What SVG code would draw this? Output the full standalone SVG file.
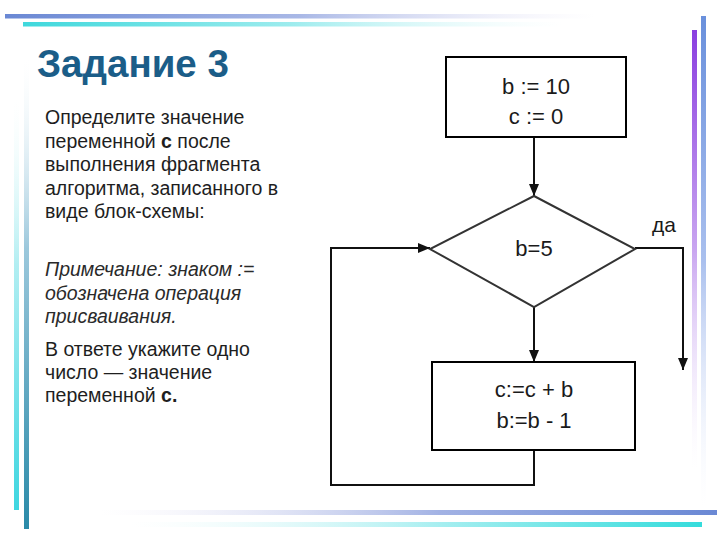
<svg xmlns="http://www.w3.org/2000/svg" width="720" height="540" viewBox="0 0 720 540">
<defs>
<linearGradient id="gTopBlue" x1="0" y1="0" x2="1" y2="0"><stop offset="0" stop-color="#6a88d4"/><stop offset="0.5" stop-color="#a9b8e6"/><stop offset="1" stop-color="#e8e4f6" stop-opacity="0"/></linearGradient>
<linearGradient id="gTopCyan" x1="0" y1="0" x2="1" y2="0"><stop offset="0" stop-color="#3fd8dc"/><stop offset="0.5" stop-color="#9eecee"/><stop offset="1" stop-color="#e6fafa" stop-opacity="0"/></linearGradient>
<linearGradient id="gBotBlue" x1="1" y1="0" x2="0" y2="0"><stop offset="0" stop-color="#6a88d4"/><stop offset="0.45" stop-color="#a2b2e4"/><stop offset="1" stop-color="#ece8f6" stop-opacity="0"/></linearGradient>
<linearGradient id="gBotCyan" x1="1" y1="0" x2="0" y2="0"><stop offset="0" stop-color="#35dcdc"/><stop offset="0.45" stop-color="#a4eef0"/><stop offset="1" stop-color="#e8fafa" stop-opacity="0"/></linearGradient>
<linearGradient id="gRPurple" x1="0" y1="0" x2="0" y2="1"><stop offset="0" stop-color="#8b3fe0"/><stop offset="0.5" stop-color="#c9a6f0"/><stop offset="1" stop-color="#f4eefc" stop-opacity="0"/></linearGradient>
<linearGradient id="gRBlue" x1="0" y1="0" x2="0" y2="1"><stop offset="0" stop-color="#6a90dc"/><stop offset="0.5" stop-color="#aac0ee"/><stop offset="1" stop-color="#eef2fc" stop-opacity="0"/></linearGradient>
<linearGradient id="gLCyan" x1="0" y1="1" x2="0" y2="0"><stop offset="0" stop-color="#3ed6e0"/><stop offset="0.6" stop-color="#b2eef2"/><stop offset="1" stop-color="#f0fcfc" stop-opacity="0"/></linearGradient>
<linearGradient id="gLBlue" x1="0" y1="1" x2="0" y2="0"><stop offset="0" stop-color="#2a8aa8"/><stop offset="0.6" stop-color="#9cc8dc"/><stop offset="1" stop-color="#eef6fa" stop-opacity="0"/></linearGradient>
<marker id="arr" markerUnits="userSpaceOnUse" markerWidth="12" markerHeight="10" refX="12" refY="5" orient="auto"><path d="M0,0 L12,5 L0,10 z" fill="#111"/></marker>
</defs>
<style>
.body{font-family:"Liberation Sans",Arial,sans-serif;font-size:19.5px;fill:#1e1e1e}
.it{font-style:italic;fill:#2a2a2a}
.fc{font-family:"Liberation Sans",Arial,sans-serif;font-size:22px;fill:#1a1a1a;text-anchor:middle}
.box{fill:#fff;stroke:#000;stroke-width:2}
.dia{fill:#fff;stroke:#333;stroke-width:2}
.con{fill:none;stroke:#111;stroke-width:2}
</style>
<rect width="720" height="540" fill="#fff"/>
<g id="decor">
<rect x="5" y="14" width="590" height="4.5" fill="url(#gTopBlue)"/>
<rect x="23" y="22" width="540" height="4.5" fill="url(#gTopCyan)"/>
<rect x="692" y="30" width="5" height="440" fill="url(#gRPurple)"/>
<rect x="701" y="16" width="5" height="490" fill="url(#gRBlue)"/>
<rect x="100" y="510" width="617" height="5" fill="url(#gBotBlue)"/>
<rect x="130" y="522" width="572" height="5" fill="url(#gBotCyan)"/>
<rect x="14" y="100" width="5" height="410" fill="url(#gLCyan)"/>
<rect x="24" y="60" width="5" height="469" fill="url(#gLBlue)"/>
</g>
<g id="title"><text x="37" y="77" font-family="'Liberation Sans',Arial,sans-serif" font-weight="bold" font-size="38.5" fill="#1b5d88">Задание 3</text></g>
<g id="task">
<text class="body" x="45" y="124">Определите значение</text>
<text class="body" x="45" y="147.5">переменной <tspan font-weight="bold">c</tspan> после</text>
<text class="body" x="45" y="171">выполнения фрагмента</text>
<text class="body" x="45" y="194.5">алгоритма, записанного в</text>
<text class="body" x="45" y="218">виде блок-схемы:</text>
<text class="body it" x="45" y="276">Примечание: знаком :=</text>
<text class="body it" x="45" y="299.5">обозначена операция</text>
<text class="body it" x="45" y="323">присваивания.</text>
<text class="body" x="45" y="356">В ответе укажите одно</text>
<text class="body" x="45" y="379">число — значение</text>
<text class="body" x="45" y="402">переменной <tspan font-weight="bold">c.</tspan></text>
</g>
<g id="connectors">
<line class="con" x1="534" y1="137" x2="534" y2="196" marker-end="url(#arr)"/>
<line class="con" x1="534" y1="307" x2="534" y2="362" marker-end="url(#arr)"/>
<polyline class="con" points="635,248 683,248 683,370" marker-end="url(#arr)"/>
<polyline class="con" points="534,450 534,485 331,485 331,248 430,248" marker-end="url(#arr)"/>
<text x="652" y="232" font-family="'Liberation Sans',Arial,sans-serif" font-size="21" fill="#1a1a1a">да</text>
</g>
<g id="init">
<rect class="box" x="446" y="57" width="180" height="80"/>
<text class="fc" x="536" y="94">b := 10</text>
<text class="fc" x="536" y="124">c := 0</text>
</g>
<g id="cond">
<polygon class="dia" points="534,196 635,249 534,307 430,249"/>
<text class="fc" x="534" y="256">b=5</text>
</g>
<g id="body">
<rect class="box" x="432" y="362" width="203" height="88"/>
<text class="fc" x="534" y="397">c:=c + b</text>
<text class="fc" x="534" y="428">b:=b - 1</text>
</g>
</svg>
